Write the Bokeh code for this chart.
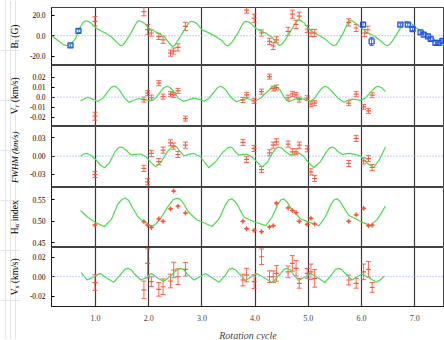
import math
from bokeh.plotting import figure
from bokeh.models import (Range1d, FixedTicker, Whisker, ColumnDataSource, Label,
                          Span, TeeHead, Grid, NumeralTickFormatter)
from bokeh.layouts import column, row
from bokeh.embed import file_html
from bokeh.resources import INLINE

# ---------------- data ----------------
cycle = [0.99, 1.91, 1.98, 2.05, 2.19, 2.27, 2.41, 2.47, 2.55, 2.69, 3.77, 3.84, 3.98,
         4.12, 4.27, 4.34, 4.40, 4.62, 4.70, 4.77, 4.83, 4.98, 5.05, 5.12, 5.76, 5.90,
         6.04, 6.13, 6.20]

b_cycle = [0.99, 1.91, 1.98, 2.05, 2.19, 2.27, 2.41, 2.47, 2.55, 2.69, 3.84, 3.98, 4.12,
           4.27, 4.34, 4.40, 4.62, 4.70, 4.77, 4.83, 4.98, 5.05, 5.12, 5.76, 5.90, 6.06, 6.12]
b_val = [14, 23.4, 6, 2.6, -0.7, -4, -17, -15, -11.4, 9, 25, 17, 2.6, -5.5, -10, -4, 4.2,
         21, 11, 19, 6.5, 2.6, 2.6, 13, 7.5, 2.6, 5.8]
b_err = [4.5, 4, 5, 3, 3, 3.5, 3, 3, 3.5, 4, 3, 4, 3, 3, 3.5, 3, 4, 4, 4, 4, 3.5, 3.5, 3.5, 3.5, 3.5, 3.5, 3.5]

blue_cycle = [0.53, 0.68, 6.03, 6.19, 6.73, 6.87, 6.96, 7.11, 7.17, 7.25, 7.30, 7.39, 7.45, 7.52]
blue_val = [-9.5, 4.6, 10.7, -5.6, 10.7, 10.7, 6.5, 3.2, 1.0, -0.7, -3.2, -7.0, -7.0, -5.0]
blue_err = [1.5, 1.5, 2, 4, 1.5, 1.5, 1.5, 1.5, 1.5, 1.5, 1.5, 1.5, 1.5, 1.5]

vr_val = [-0.019, -0.0024, 0.004, -0.0004, 0.014, 0.0006, 0.003, 0.0023, 0.0063, -0.0214,
          -0.0027, 0.0023, -0.0037, 0.0056, 0.0206, 0.0086, 0.0096, -0.0004, 0.0033, 0.0023,
          -0.0024, -0.001, -0.007, -0.006, -0.006, 0.003, -0.0097, -0.0137, 0.002]
vr_err = [0.004] + [0.0025] * 28

fw_val = [-0.030, -0.020, -0.042, 0.0044, -0.009, 0.0098, 0.0218, 0.0164, 0.0027, 0.018,
          0.0225, -0.0054, 0.0126, -0.022, 0.0055, 0.018, 0.0235, 0.0197, 0.007, 0.007,
          0.018, 0.012, -0.0257, -0.0366, -0.012, 0.029, -0.0077, -0.004, -0.0186]
fw_err = [0.005] * 29

ha_val = [0.491, 0.499, 0.491, 0.486, 0.506, 0.500, 0.529, 0.570, 0.535, 0.519, 0.500, 0.483,
          0.479, 0.476, 0.487, 0.490, 0.542, 0.531, 0.525, 0.520, 0.500, 0.493, 0.507, 0.494,
          0.500, 0.515, 0.530, 0.490, 0.491]
ha_err = [0.0015] * 29

vs_val = [-0.006, -0.0135, 0.0137, -0.005, -0.013, -0.0103, -0.0044, 0.0069, 0.0, 0.0076,
          -0.0034, 0.0017, -0.005, 0.0205, 0.0, 0.0, 0.0034, 0.005, 0.0137, 0.0086, -0.0068,
          0.0034, 0.005, -0.0017, -0.0034, -0.0068, 0.005, 0.0076, -0.011]
vs_err = [0.008, 0.009, 0.015, 0.005, 0.007, 0.008, 0.007, 0.008, 0.008, 0.007, 0.006, 0.007,
          0.007, 0.008, 0.006, 0.006, 0.008, 0.006, 0.008, 0.008, 0.005, 0.005, 0.008, 0.009,
          0.005, 0.005, 0.008, 0.008, 0.005]

# green model curves
b_fit_x = [0.18, 0.30, 0.40, 0.47, 0.54, 0.62, 0.72, 0.77, 0.81, 0.86, 0.91, 1.01, 1.11, 1.21,
           1.31, 1.41, 1.47, 1.52, 1.56, 1.66, 1.74, 1.78, 1.81, 1.85, 1.91, 2.00, 2.10, 2.20,
           2.30, 2.38, 2.44, 2.49, 2.53, 2.63, 2.72, 2.76, 2.80, 2.85, 2.90, 3.00, 3.10, 3.26,
           3.38, 3.44, 3.48, 3.52, 3.57, 3.67, 3.75, 3.79, 3.82, 3.87, 3.92, 4.02, 4.12, 4.22,
           4.32, 4.40, 4.45, 4.50, 4.54, 4.64, 4.73, 4.78, 4.82, 4.87, 4.92, 5.02, 5.12, 5.29,
           5.40, 5.47, 5.52, 5.56, 5.65, 5.72, 5.75, 5.78, 5.83, 5.88, 6.00, 6.11, 6.25, 6.38,
           6.44, 6.48, 6.52, 6.57, 6.67, 6.76, 6.80, 6.83, 6.88, 6.93, 7.03, 7.13, 7.23, 7.33,
           7.43, 7.50, 7.56]
b_fit_y = [0, -5, -8.8, -9.8, -8.0, -3.2, 9, 13.2, 14.6, 14.0, 12.5, 7.5, 4.5, 2.0,
           -1.5, -7, -9.8, -9.0, -6, 2, 10, 13.3, 14.6, 14.0, 12.5, 7.5, 4.5, 2.0,
           -1.5, -7, -10.4, -9.5, -6, 2, 10, 12.8, 14.0, 13.5, 12, 5.9, 3.5, -0.7,
           -5, -8.8, -9.8, -9.0, -6, 2, 10, 13.0, 14, 13.5, 12, 7, 4.2, 2,
           -1.5, -7, -9.4, -8.6, -6, 2, 10, 13.8, 15, 14.3, 12.5, 6, 2.6, -2.2,
           -7, -9.8, -9.0, -6, 2, 10, 13.6, 15, 14.2, 12.5, 7.5, 2.6, -0.5, -6,
           -8.9, -9.8, -9.0, -6, 2, 10, 13.0, 14, 13.5, 12, 7.5, 4.5, 2, -1.5,
           -7, -9.5, -8]

vr_fit_x = [0.72, 0.79, 0.86, 0.95, 1.04, 1.14, 1.24, 1.30, 1.35, 1.40, 1.45, 1.55, 1.63, 1.72,
            1.81, 1.92, 2.03, 2.13, 2.23, 2.29, 2.35, 2.40, 2.45, 2.56, 2.66, 2.75, 2.85, 2.95,
            3.04, 3.14, 3.24, 3.30, 3.35, 3.40, 3.45, 3.56, 3.65, 3.75, 3.85, 3.92, 3.99, 4.10,
            4.24, 4.31, 4.37, 4.42, 4.47, 4.56, 4.63, 4.72, 4.82, 4.94, 5.04, 5.12, 5.21, 5.27,
            5.32, 5.37, 5.42, 5.56, 5.67, 5.75, 5.83, 5.91, 5.98, 6.08, 6.20, 6.26, 6.31, 6.38,
            6.45]
vr_fit_y = [-0.0037, -0.0015, 0.0, -0.0022, -0.004, -0.001, 0.006, 0.0098, 0.0112, 0.0098,
            0.007, -0.001, -0.0052, -0.003, -0.0013, -0.0022, -0.0038, -0.001, 0.006, 0.0097,
            0.011, 0.0097, 0.007, -0.001, -0.0042, -0.0025, -0.001, -0.0022, -0.004, -0.001,
            0.006, 0.0097, 0.011, 0.0097, 0.007, -0.001, -0.0045, -0.0025, -0.0013, -0.0025,
            -0.004, -0.001, 0.006, 0.0097, 0.011, 0.0097, 0.007, -0.001, -0.0045, -0.0025,
            -0.001, -0.0022, -0.004, -0.001, 0.006, 0.0097, 0.011, 0.0097, 0.007, -0.001,
            -0.005, -0.003, -0.002, -0.0025, -0.0032, -0.0005, 0.0065, 0.0098, 0.011, 0.0095,
            0.0056]

fw_fit_x = [0.72, 0.78, 0.84, 0.92, 1.00, 1.08, 1.17, 1.26, 1.36, 1.42, 1.47, 1.52, 1.57, 1.67,
            1.76, 1.85, 1.95, 2.03, 2.13, 2.23, 2.35, 2.42, 2.48, 2.53, 2.57, 2.66, 2.75, 2.85,
            2.97, 3.05, 3.13, 3.25, 3.40, 3.48, 3.54, 3.58, 3.62, 3.69, 3.77, 3.85, 3.95, 4.04,
            4.13, 4.23, 4.34, 4.40, 4.45, 4.50, 4.56, 4.67, 4.75, 4.83, 4.92, 4.99, 5.10, 5.22,
            5.34, 5.40, 5.45, 5.50, 5.55, 5.64, 5.72, 5.79, 5.89, 5.98, 6.10, 6.23, 6.34, 6.45]
fw_fit_y = [0.0, 0.0035, 0.0044, 0.001, -0.0054, -0.014, -0.019, -0.011, 0.006, 0.0128, 0.015,
            0.0135, 0.010, 0.002, 0.003, 0.0035, -0.001, -0.009, -0.0175, -0.010, 0.007, 0.0140,
            0.0164, 0.0145, 0.010, 0.0005, 0.003, 0.0044, -0.001, -0.010, -0.0186, -0.010, 0.007,
            0.0132, 0.015, 0.0128, 0.008, 0.0016, 0.003, 0.003, -0.002, -0.010, -0.0175, -0.010,
            0.007, 0.0132, 0.015, 0.0132, 0.008, 0.0016, 0.0044, 0.005, -0.001, -0.009, -0.0186,
            -0.010, 0.007, 0.0132, 0.015, 0.0128, 0.008, 0.0027, 0.004, 0.0044, 0.0025, 0.0,
            -0.011, -0.0186, -0.005, 0.015]

ha_fit_x = [0.72, 0.85, 1.00, 1.17, 1.30, 1.42, 1.50, 1.56, 1.62, 1.68, 1.80, 1.91, 2.03, 2.08,
            2.14, 2.22, 2.34, 2.46, 2.52, 2.57, 2.62, 2.66, 2.75, 2.91, 3.00, 3.19, 3.32, 3.45,
            3.51, 3.56, 3.62, 3.68, 3.79, 3.98, 4.20, 4.32, 4.43, 4.49, 4.54, 4.60, 4.67, 4.79,
            4.85, 5.04, 5.20, 5.32, 5.43, 5.49, 5.54, 5.60, 5.65, 5.76, 5.98, 6.17, 6.30, 6.45]
ha_fit_y = [0.525, 0.510, 0.497, 0.488, 0.505, 0.540, 0.551, 0.554, 0.549, 0.535, 0.510, 0.499,
            0.491, 0.489, 0.495, 0.506, 0.530, 0.550, 0.553, 0.552, 0.547, 0.540, 0.521, 0.503,
            0.499, 0.488, 0.505, 0.540, 0.550, 0.552, 0.546, 0.535, 0.510, 0.499, 0.490, 0.510,
            0.540, 0.550, 0.552, 0.545, 0.531, 0.515, 0.506, 0.497, 0.490, 0.510, 0.540, 0.550,
            0.552, 0.546, 0.535, 0.514, 0.500, 0.490, 0.505, 0.535]

vs_fit_x = [0.73, 0.79, 0.84, 0.92, 1.00, 1.09, 1.20, 1.34, 1.47, 1.55, 1.61, 1.67, 1.73, 1.85,
            1.95, 2.05, 2.16, 2.28, 2.44, 2.54, 2.60, 2.66, 2.72, 2.85, 2.96, 3.07, 3.19, 3.32,
            3.45, 3.51, 3.57, 3.63, 3.70, 3.82, 3.93, 4.03, 4.17, 4.32, 4.46, 4.54, 4.60, 4.66,
            4.71, 4.82, 4.94, 5.05, 5.18, 5.31, 5.44, 5.51, 5.57, 5.63, 5.70, 5.82, 5.92, 6.01,
            6.14, 6.28, 6.36, 6.43]
vs_fit_y = [0.0041, 0.0, -0.0034, -0.0015, 0.001, 0.0034, -0.001, -0.0058, 0.002, 0.0075,
            0.0086, 0.0072, 0.003, -0.0034, -0.001, 0.0034, -0.001, -0.005, 0.002, 0.0075,
            0.0086, 0.0072, 0.003, -0.0034, 0.0, 0.0034, -0.001, -0.0058, 0.002, 0.0075,
            0.0086, 0.0072, 0.003, -0.004, 0.0, 0.0034, -0.001, -0.006, 0.002, 0.0075, 0.0086,
            0.0072, 0.003, -0.0038, 0.0, 0.0034, -0.001, -0.006, 0.002, 0.0075, 0.0086, 0.0072,
            0.003, -0.0034, 0.0, 0.0027, -0.001, -0.0058, -0.003, 0.0007]

x_ticks = [1, 2, 3, 4, 5, 6, 7]

# ---------------- style ----------------
SERIF = "Liberation Serif"
RED = "#ff4a33"
BLUE = "#2452e6"
GREEN = "#4cdc4c"
ZERO = "#9fb3ff"

EM = {'B': .667, 'V': .722, 'H': .722, 'F': .611, 'W': .833, 'M': .833, ' ': .25, '(': .333,
      ')': .333, 'G': .722, 'k': .5, 'm': .722, '/': .278, 's': .389, 'l': .278, 'r': .389,
      'i': .278, 'n': .5, 'd': .5, 'e': .444, 'x': .444, 'α': .52}


def tw(s, size):
    return sum(EM.get(c, .5) for c in s) * size


LAB_W = 20
TOP = 7
FRAMES = [58, 61, 61, 60, 59]
BOTTOM = 33
TOTAL_H = TOP + sum(FRAMES) + BOTTOM

xr = Range1d(0.173, 7.56)


def panel(fh, yr, ticks, fmt, overrides=None, top=False, bottom=False):
    p = figure(frame_width=393, frame_height=fh, x_range=xr, y_range=Range1d(*yr),
               output_backend="svg", toolbar_location=None,
               x_axis_location="below" if bottom else None,
               min_border_left=51 - LAB_W, min_border_right=0,
               min_border_top=TOP if top else 0,
               min_border_bottom=BOTTOM if bottom else 0)
    p.background_fill_color = "white"
    p.border_fill_color = "white"
    p.outline_line_color = "#111111"
    p.outline_line_width = 0.8
    p.ygrid.visible = False
    y = p.yaxis[0]
    y.ticker = FixedTicker(ticks=ticks)
    y.formatter = NumeralTickFormatter(format=fmt)
    if overrides:
        y.major_label_overrides = overrides
    y.major_tick_in = 3
    y.major_tick_out = 0
    y.minor_tick_line_color = None
    y.major_label_text_font = SERIF
    y.major_label_text_font_size = "7.5px"
    y.major_label_text_color = "black"
    y.major_label_standoff = 6
    y.axis_line_color = "#111111"
    y.axis_line_width = 0.8
    y.major_tick_line_color = "black"
    if bottom:
        x = p.xaxis[0]
        x.ticker = FixedTicker(ticks=x_ticks)
        x.formatter = NumeralTickFormatter(format="0.0")
        x.major_tick_in = 0
        x.major_tick_out = 0
        x.minor_tick_line_color = None
        x.major_label_text_font = SERIF
        x.major_label_text_font_size = "8px"
        x.major_label_standoff = 8
        x.axis_label = "Rotation cycle"
        x.axis_label_text_font = SERIF
        x.axis_label_text_font_style = "italic"
        x.axis_label_text_font_size = "10px"
        x.axis_label_standoff = 6
        x.axis_line_color = "#111111"
        x.axis_line_width = 0.8
        p.xgrid.ticker = FixedTicker(ticks=x_ticks)
        p.xgrid.grid_line_color = "#3a3a3a"
        p.xgrid.grid_line_width = 1.2
    else:
        p.add_layout(Grid(dimension=0, ticker=FixedTicker(ticks=x_ticks),
                          grid_line_color="#3a3a3a", grid_line_width=1.2))
    return p


def zero_line(p):
    p.add_layout(Span(location=0, dimension="width", line_color=ZERO, line_dash="1 2",
                      line_width=1.2))


def errs(p, xs, ys, es, color, marker, size, hsize=5):
    src = ColumnDataSource(dict(x=xs, y=ys, up=[a + b for a, b in zip(ys, es)],
                                lo=[a - b for a, b in zip(ys, es)]))
    p.add_layout(Whisker(source=src, base="x", upper="up", lower="lo", line_color=color,
                         line_width=1, line_alpha=0.85,
                         upper_head=TeeHead(size=hsize, line_color=color, line_width=1, line_alpha=0.85),
                         lower_head=TeeHead(size=hsize, line_color=color, line_width=1, line_alpha=0.85)))
    if marker == "square":
        p.scatter("x", "y", source=src, marker="square", size=size, fill_color=None,
                  line_color=color, line_width=1.3)
    else:
        p.scatter("x", "y", source=src, marker=marker, size=size, line_color=color,
                  line_width=1.2, line_alpha=0.9)


# Panel 1: B_l
p1 = panel(FRAMES[0], (-29.1, 27.5), [-20, 0, 20], "0.0", top=True)
zero_line(p1)
p1.line(b_fit_x, b_fit_y, line_color=GREEN, line_width=1.2)
errs(p1, b_cycle, b_val, b_err, RED, "dash", 5)
errs(p1, blue_cycle, blue_val, blue_err, BLUE, "square", 5, hsize=4)

# Panel 2: V_r
p2 = panel(FRAMES[1], (-0.0293, 0.0317), [-0.02, -0.01, 0, 0.01, 0.02], "0.00", overrides={0: "0.0"})
zero_line(p2)
p2.line(vr_fit_x, vr_fit_y, line_color=GREEN, line_width=1.2)
errs(p2, cycle, vr_val, vr_err, RED, "dash", 5)

# Panel 3: FWHM
p3 = panel(FRAMES[2], (-0.0513, 0.0485), [-0.03, 0, 0.03], "0.00")
zero_line(p3)
p3.line(fw_fit_x, fw_fit_y, line_color=GREEN, line_width=1.2)
errs(p3, cycle, fw_val, fw_err, RED, "dash", 5)

# Panel 4: H alpha index
p4 = panel(FRAMES[3], (0.4395, 0.5782), [0.45, 0.50, 0.55], "0.00")
p4.line(ha_fit_x, ha_fit_y, line_color=GREEN, line_width=1.2)
errs(p4, cycle, ha_val, ha_err, RED, "cross", 5, hsize=3)

# Panel 5: V_s
p5 = panel(FRAMES[4], (-0.0306, 0.030), [-0.02, 0, 0.02], "0.00", bottom=True)
zero_line(p5)
p5.line(vs_fit_x, vs_fit_y, line_color=GREEN, line_width=1.2)
errs(p5, cycle, vs_val, vs_err, RED, "dash", 5)

# ---- y-axis titles (with subscripts) in a narrow strip on the left ----
lab = figure(frame_width=LAB_W, frame_height=TOTAL_H, x_range=Range1d(0, LAB_W),
             y_range=Range1d(TOTAL_H, 0), output_backend="svg", toolbar_location=None,
             x_axis_location=None, y_axis_location=None, min_border=0)
lab.outline_line_color = None
lab.background_fill_color = "white"
lab.border_fill_color = "white"

titles = [
    [("B", 9.5, False, "normal"), ("l", 7, True, "normal"), ("(G)", 9.5, False, "normal")],
    [("V", 9.5, False, "normal"), ("r", 7, True, "normal"), ("(km/s)", 9.5, False, "normal")],
    [("FWHM (km/s)", 9, False, "italic")],
    [("H", 9.5, False, "normal"), ("α", 7, True, "normal"), ("index", 9.5, False, "normal")],
    [("V", 9.5, False, "normal"), ("s", 7, True, "normal"), ("(km/s)", 9.5, False, "normal")],
]
edge = TOP
for fh, parts in zip(FRAMES, titles):
    centre = edge + fh / 2
    total = sum(tw(t, s) for t, s, _, _ in parts) + (2.4 if len(parts) > 1 else 0)
    pos = centre + total / 2
    for i, (t, s, sub, style) in enumerate(parts):
        if i == 2:
            pos -= 2.4
        lab.add_layout(Label(x=14 + (2.5 if sub else 0), y=pos, angle=math.pi / 2, text=t,
                             text_font=SERIF, text_font_size=f"{s}px", text_font_style=style,
                             text_baseline="alphabetic", text_align="left", text_color="black"))
        pos -= tw(t, s)
    edge += fh

layout = row(lab, column(p1, p2, p3, p4, p5, spacing=0), spacing=0)
open("out.html", "w").write(file_html(layout, INLINE))
